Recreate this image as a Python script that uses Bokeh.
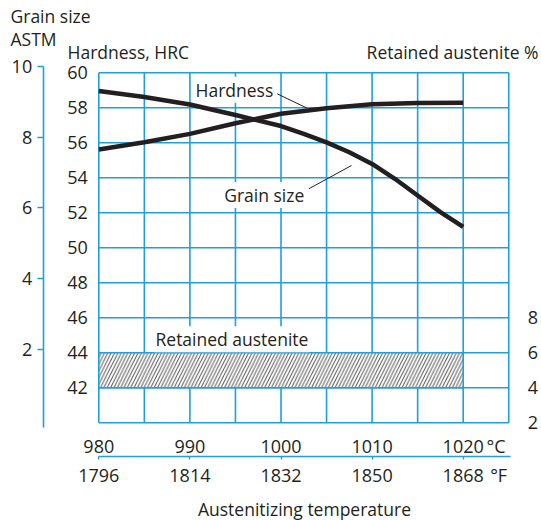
from bokeh.plotting import figure
from bokeh.models import Range1d, LinearAxis, FixedTicker, Label
from bokeh.embed import file_html
from bokeh.resources import INLINE

# ---------------- data ----------------
hard_temp = [980, 985, 990, 995, 1000, 1005, 1010, 1015, 1020]
hardness_hrc = [55.62, 56.03, 56.51, 57.12, 57.66, 57.98, 58.20, 58.28, 58.29]

grain_temp = [980, 985, 990, 995, 1000, 1002.5, 1005, 1007.5, 1010, 1012.5, 1015,
              1017.5, 1020]
grain_astm = [9.30, 9.13, 8.92, 8.62, 8.31, 8.09, 7.85, 7.57, 7.24, 6.82, 6.35,
              5.88, 5.46]

austenite_temp = [980, 1020]
austenite_pct = [4, 6]

c_ticks = [980, 990, 1000, 1010, 1020]
f_ticks = [1796, 1814, 1832, 1850, 1868]
hrc_ticks = [42, 44, 46, 48, 50, 52, 54, 56, 58, 60]
grain_ticks = [2, 4, 6, 8, 10]
aust_ticks = [2, 4, 6, 8]
grid_temp = [980, 985, 990, 995, 1000, 1005, 1010, 1015, 1020, 1025]
grid_hrc = [40, 42, 44, 46, 48, 50, 52, 54, 56, 58, 60]

# ---------------- styling ----------------
CYAN = "#1f9fdc"
INK = "#231f20"
FONT = "Open Sans"
TICK_FS = "18px"
TEXT_FS = "17.5px"

W, H = 541, 520

PX_C = 9.11      # px per degree C
PX_HRC = 17.5    # px per HRC
PX_G = 35.41     # px per ASTM grain number


def dx(px):          # page pixel x -> degC
    return 980 + (px - 98.3) / PX_C


def dy(py):          # page pixel y -> HRC
    return 60 + (72.3 - py) / PX_HRC


def dg(py):          # page pixel y -> ASTM grain size
    return 10 - (py - 65.7) / PX_G


def c2f(c):
    return c * 1.8 + 32


p = figure(width=W, height=H, output_backend="svg", toolbar_location=None,
           x_range=Range1d(dx(0), dx(W)), y_range=Range1d(dy(H), dy(0)),
           min_border_left=0, min_border_right=0, min_border_top=0,
           min_border_bottom=0)
p.outline_line_color = None
p.xgrid.visible = False
p.ygrid.visible = False

p.extra_y_ranges = {
    "grain": Range1d(dg(H), dg(0)),
    "aust": Range1d(dy(H) - 38, dy(0) - 38),
}
p.extra_x_ranges = {"F": Range1d(c2f(dx(0)), c2f(dx(W)))}

# grid
p.segment(x0=grid_temp, x1=grid_temp, y0=[grid_hrc[0]] * len(grid_temp),
          y1=[grid_hrc[-1]] * len(grid_temp), line_color=CYAN, line_width=1.6)
p.segment(x0=[grid_temp[0]] * len(grid_hrc), x1=[grid_temp[-1]] * len(grid_hrc),
          y0=grid_hrc, y1=grid_hrc, line_color=CYAN, line_width=1.6)

# retained austenite band
p.quad(left=[austenite_temp[0]], right=[austenite_temp[1]],
       bottom=[austenite_pct[0]], top=[austenite_pct[1]], y_range_name="aust",
       fill_color="white", line_color=CYAN, line_width=1.6,
       hatch_pattern="/", hatch_color="#5a5a5a", hatch_scale=6.7, hatch_weight=1.0)

# curves
p.line(hard_temp, hardness_hrc, line_color=INK, line_width=4.5, line_join="round")
p.line(grain_temp, grain_astm, y_range_name="grain", line_color=INK, line_width=4.5,
       line_join="round")

# leader lines of the curve labels
p.segment(x0=[dx(276.7), dx(308.3)], y0=[dy(93.3), dy(188.3)],
          x1=[dx(306.7), dx(351)], y1=[dy(107.7), dy(165)],
          line_color=INK, line_width=1)

# ---------------- axes ----------------
C_UNIT_AT = 1023.6
F_UNIT_AT = 1875


def style_labels(a, standoff):
    a.major_label_standoff = standoff
    a.major_label_text_font = FONT
    a.major_label_text_font_size = TICK_FS
    a.major_label_text_color = INK
    a.minor_tick_line_color = None


ax = p.xaxis[0]
ax.fixed_location = dy(427)
ax.ticker = FixedTicker(ticks=c_ticks + [C_UNIT_AT])
ax.major_label_overrides = {C_UNIT_AT: "\u00b0C"}
ax.axis_line_color = None
ax.major_tick_line_color = None
ax.major_tick_out = 0
style_labels(ax, 6)

fax = LinearAxis(x_range_name="F", fixed_location=dy(455.7),
                 bounds=(f_ticks[0], c2f(dx(510))),
                 ticker=FixedTicker(ticks=f_ticks + [F_UNIT_AT], minor_ticks=f_ticks))
fax.major_label_overrides = {F_UNIT_AT: "\u00b0F"}
fax.axis_line_color = CYAN
fax.axis_line_width = 1.6
fax.major_tick_line_color = None
fax.major_tick_out = 3
fax.major_tick_in = 0
style_labels(fax, 4)
fax.minor_tick_line_color = CYAN
fax.minor_tick_line_width = 1.4
fax.minor_tick_out = 3
fax.minor_tick_in = 0
fax.axis_label = "Austenitizing temperature"
fax.axis_label_text_font = FONT
fax.axis_label_text_font_size = TEXT_FS
fax.axis_label_text_font_style = "normal"
fax.axis_label_text_color = INK
fax.axis_label_standoff = 6
p.add_layout(fax, "below")

yax = p.yaxis[0]
yax.fixed_location = grid_temp[0]
yax.ticker = FixedTicker(ticks=hrc_ticks)
yax.axis_line_color = None
yax.major_tick_line_color = None
yax.major_tick_out = 0
style_labels(yax, 11)

gax = LinearAxis(y_range_name="grain", fixed_location=dx(42.7),
                 bounds=(dg(427), grain_ticks[-1]),
                 ticker=FixedTicker(ticks=grain_ticks))
gax.axis_line_color = CYAN
gax.axis_line_width = 1.6
gax.major_tick_line_color = CYAN
gax.major_tick_line_width = 1.6
gax.major_tick_out = 6
gax.major_tick_in = 0
style_labels(gax, 5)
p.add_layout(gax, "left")

rax = LinearAxis(y_range_name="aust", fixed_location=grid_temp[-1],
                 ticker=FixedTicker(ticks=aust_ticks))
rax.axis_line_color = None
rax.major_tick_line_color = None
rax.major_tick_out = 0
style_labels(rax, 19)
p.add_layout(rax, "right")


def lab(text, px, py, align="left", bg=None):
    L = Label(x=dx(px), y=dy(py), text=text, text_font=FONT,
              text_font_size=TEXT_FS, text_color=INK, text_align=align,
              text_baseline="middle")
    if bg:
        L.background_fill_color = bg
        L.padding = 1
    p.add_layout(L)


lab("Grain size", 10, 15.5)
lab("ASTM", 10, 38.3)
lab("Hardness, HRC", 67, 51.5)
lab("Retained austenite %", 538, 51.5, align="right")
lab("Hardness", 194, 89.3, bg="white")
lab("Grain size", 222.7, 194.5, bg="white")
lab("Retained austenite", 154, 338.8, bg="white")

open("out.html", "w").write(file_html(p, INLINE))
